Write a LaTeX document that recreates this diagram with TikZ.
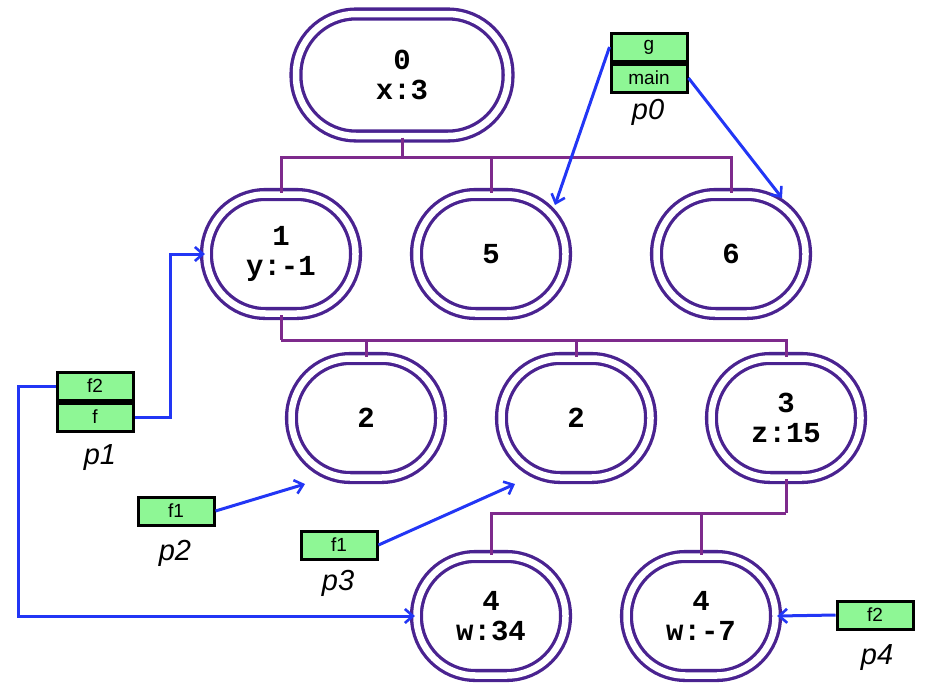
\documentclass[tikz,border=0pt]{standalone}
\usepackage{fontspec}
\setsansfont{Liberation Sans}
\setmonofont{Liberation Mono}
\usetikzlibrary{arrows.meta}
\definecolor{nodep}{HTML}{4A2390}
\definecolor{treep}{HTML}{7E2A8C}
\definecolor{arrb}{HTML}{2236F5}
\definecolor{stk}{HTML}{8EF795}
\begin{document}
\begin{tikzpicture}[x=1pt,y=-1pt,
  obj/.style={draw=nodep,line width=3.3pt,double=white,double distance=6.5pt,rounded corners=59pt,
    minimum width=149pt,minimum height=119pt,inner sep=0pt,align=center,
    font=\fontsize{29}{30}\selectfont\ttfamily\bfseries},
  tree/.style={draw=treep,line width=3pt},
  ptr/.style={draw=arrb,line width=3pt,-{Straight Barb[length=8pt,width=14pt,line width=2.6pt]}},
  fr/.style={draw=black,line width=3pt,fill=stk,minimum width=76pt,minimum height=28pt,inner sep=0pt,
    font=\sffamily\fontsize{19}{19}\selectfont},
  lab/.style={font=\sffamily\itshape\fontsize{29}{29}\selectfont}]
\useasboundingbox (0,0) rectangle (925,691);
\node[obj,minimum width=212pt,minimum height=122pt,rounded corners=60pt] (n0) at (402,75) {0\\x:3};
\node[obj] (n1) at (281,254) {1\\y:-1};
\node[obj] (n5) at (491,254) {5};
\node[obj] (n6) at (731,254) {6};
\node[obj] (n2a) at (366,418) {2};
\node[obj] (n2b) at (576,418) {2};
\node[obj] (n3) at (786,418) {3\\z:15};
\node[obj] (n4a) at (491,616) {4\\w:34};
\node[obj] (n4b) at (701,616) {4\\w:-7};
% tree
\draw[tree] (n0.south) -- ++(0,20) coordinate (b0);
\draw[tree] (b0) -| (n1.north); \draw[tree] (b0) -| (n5.north); \draw[tree] (b0) -| (n6.north);
\draw[tree] (n1.south) -- ++(0,25) coordinate (b1);
\draw[tree] (b1) -| (n2a.north); \draw[tree] (b1) -| (n2b.north); \draw[tree] (b1) -| (n3.north);
\draw[tree] (n3.south) -- ++(0,34) coordinate (b3);
\draw[tree] (b3) -| (n4a.north); \draw[tree] (b3) -| (n4b.north);
% stacks
\node[fr] (g) at (649,47) {g};
\node[fr,anchor=north] (main) at (g.south) {main};
\node[lab] (p0) at (648,112) {p0};
\node[fr] (f2) at (95,386) {f2};
\node[fr,anchor=north] (f) at (f2.south) {f};
\node[lab] (p1) at (100,458) {p1};
\node[fr] (f1a) at (176,511) {f1};
\node[lab] (p2) at (175,553) {p2};
\node[fr] (f1b) at (339,545) {f1};
\node[lab] (p3) at (338,583) {p3};
\node[fr] (f2b) at (875,615) {f2};
\node[lab] (p4) at (877,658) {p4};
% pointers
\coordinate (t5) at (555,205);
\coordinate (t6) at (782,198);
\coordinate (t2a) at (305,484);
\coordinate (t2b) at (515,484);
\draw[ptr] (g.west) -- (t5);
\draw[ptr] (main.east) -- (t6);
\draw[ptr] (f.east) -- ++(36,0) |- (n1.west);
\draw[ptr] (f2.west) -- ++(-37,0) |- (n4a.west);
\draw[ptr] (f1a.east) -- (t2a);
\draw[ptr] (f1b.east) -- (t2b);
\draw[ptr] (f2b.west) -- (n4b.east);
\end{tikzpicture}
\end{document}
